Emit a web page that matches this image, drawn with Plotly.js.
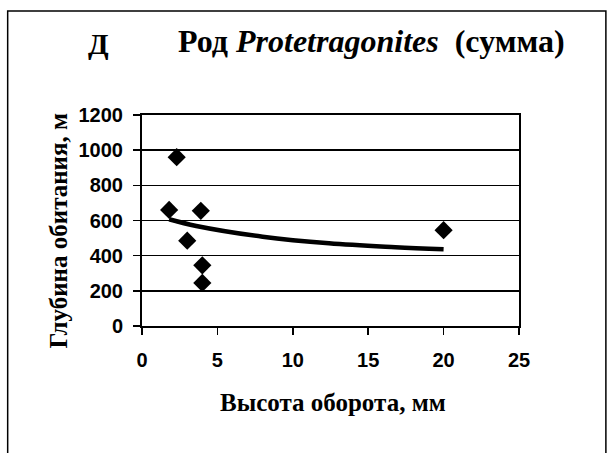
<!DOCTYPE html>
<html>
<head>
<meta charset="utf-8">
<script src="https://cdn.plot.ly/plotly-3.0.1.min.js"></script>
<style>
html,body{margin:0;padding:0;background:#fff;}
#chart{width:611px;height:453px;}
</style>
</head>
<body>
<div id="chart"></div>
<script>
// Data
const heightMM = [1.8, 2.3, 3, 3.9, 4, 4, 20];
const depthM   = [660, 960, 485, 655, 345, 245, 545];
// Trend line as drawn in the picture (read at several x positions)
const trendX = [1.8, 3.6, 8, 12.4, 16.8, 20];
const trendY = [607, 569, 508, 470, 448, 436];

const xTicks = [0, 5, 10, 15, 20, 25];
const yTicks = [0, 200, 400, 600, 800, 1000, 1200];

const panelLetter = 'Д';
const titleText = 'Род <i>Protetragonites</i>  (сумма)';
const xTitle = 'Высота оборота, мм';
const yTitle = 'Глубина обитания, м';

const serif = 'Liberation Serif, Times New Roman, serif';
const sans = 'Liberation Sans, Arial, sans-serif';

const traces = [
  {
    x: trendX, y: trendY, mode: 'lines', type: 'scatter',
    line: {color: '#000', width: 4.5, shape: 'spline'},
    hoverinfo: 'skip', showlegend: false
  },
  {
    x: heightMM, y: depthM, mode: 'markers', type: 'scatter',
    marker: {symbol: 'diamond', size: 14, color: '#000'},
    showlegend: false
  }
];

const L = 141.5, R = 92, T = 115, B = 127;
const pw = 611 - L - R, ph = 453 - T - B;
function px2paperX(px){ return (px - L) / pw; }
function px2paperY(py){ return (453 - B - py) / ph; }

const layout = {
  width: 611, height: 453,
  margin: {l: L, r: R, t: T, b: B, pad: 0},
  paper_bgcolor: '#fff', plot_bgcolor: '#fff',
  showlegend: false,
  xaxis: {
    range: [0, 25], tickvals: xTicks, ticktext: xTicks.map(String),
    showgrid: false, zeroline: false,
    showline: true, linecolor: '#000', linewidth: 2, mirror: true,
    ticks: 'outside', ticklen: 7, tickwidth: 1.5, tickcolor: '#000',
    ticklabelstandoff: 8,
    tickfont: {family: sans, size: 20, color: '#000', weight: 'bold'}
  },
  yaxis: {
    range: [0, 1200], tickvals: yTicks, ticktext: yTicks.map(String),
    showgrid: true, gridcolor: '#000', gridwidth: 1.5, zeroline: false,
    showline: true, linecolor: '#000', linewidth: 2, mirror: true,
    ticks: 'outside', ticklen: 7, tickwidth: 1.5, tickcolor: '#000',
    ticklabelstandoff: 6,
    tickfont: {family: sans, size: 20, color: '#000', weight: 'bold'}
  },
  annotations: [
    {xref: 'paper', yref: 'paper', x: px2paperX(98), y: px2paperY(43),
     text: panelLetter, showarrow: false, xanchor: 'center', yanchor: 'middle',
     font: {family: serif, size: 30, color: '#000', weight: 'bold'}},
    {xref: 'paper', yref: 'paper', x: px2paperX(371), y: px2paperY(41),
     text: titleText, showarrow: false, xanchor: 'center', yanchor: 'middle',
     font: {family: serif, size: 32, color: '#000', weight: 'bold'}},
    {xref: 'paper', yref: 'paper', x: px2paperX(333), y: px2paperY(402),
     text: xTitle, showarrow: false, xanchor: 'center', yanchor: 'middle',
     font: {family: serif, size: 25, color: '#000', weight: 'bold'}},
    {xref: 'paper', yref: 'paper', x: px2paperX(57), y: px2paperY(231),
     text: yTitle, showarrow: false, xanchor: 'center', yanchor: 'middle', textangle: -90,
     font: {family: serif, size: 25, color: '#000', weight: 'bold'}}
  ],
  shapes: [
    {type: 'rect', xref: 'paper', yref: 'paper',
     x0: px2paperX(7), x1: px2paperX(606), y0: px2paperY(470), y1: px2paperY(11),
     line: {color: '#000', width: 1.5}, layer: 'below'}
  ]
};

Plotly.newPlot('chart', traces, layout, {displayModeBar: false, staticPlot: true});
</script>
</body>
</html>
